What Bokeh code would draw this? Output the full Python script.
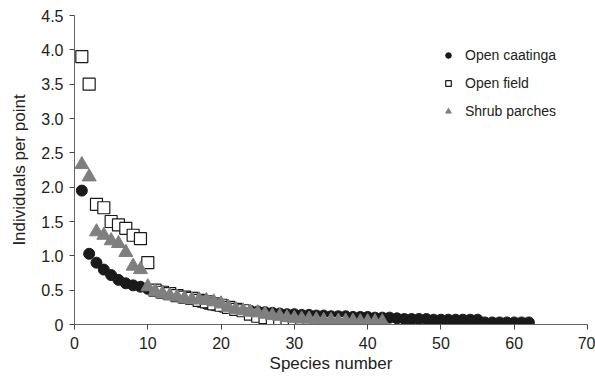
from bokeh.plotting import figure
from bokeh.models import Legend, LegendItem, Range1d, FixedTicker
from bokeh.embed import file_html
from bokeh.resources import INLINE

open_caatinga = [1.95, 1.03, 0.90, 0.80, 0.72, 0.65, 0.60, 0.57, 0.55, 0.52,
                 0.50, 0.48, 0.45, 0.42, 0.40, 0.37, 0.33, 0.30, 0.28, 0.26,
                 0.24, 0.22, 0.21, 0.20, 0.19, 0.18, 0.17, 0.16, 0.15, 0.15,
                 0.14, 0.14, 0.13, 0.13, 0.12, 0.12, 0.12, 0.11, 0.11, 0.11,
                 0.10, 0.10, 0.10, 0.09, 0.08, 0.08, 0.08, 0.08, 0.07, 0.07,
                 0.07, 0.07, 0.07, 0.07, 0.07, 0.03, 0.03, 0.03, 0.03, 0.03,
                 0.03, 0.03]
open_field = [3.90, 3.50, 1.75, 1.70, 1.50, 1.45, 1.40, 1.30, 1.25, 0.90,
              0.50, 0.47, 0.45, 0.42, 0.40, 0.38, 0.35, 0.33, 0.30, 0.28,
              0.25, 0.22, 0.20, 0.15, 0.12, 0.10, 0.08, 0.07, 0.06, 0.05,
              0.03, 0.03, 0.03, 0.03, 0.03, 0.03]
shrub_parches = [2.33, 2.15, 1.35, 1.30, 1.22, 1.18, 1.05, 0.85, 0.80, 0.55,
                 0.48, 0.45, 0.42, 0.40, 0.38, 0.36, 0.36, 0.35, 0.33, 0.30,
                 0.25, 0.22, 0.20, 0.18, 0.17, 0.15, 0.13, 0.12, 0.10, 0.09,
                 0.08, 0.08, 0.07, 0.06, 0.06, 0.05, 0.05, 0.05, 0.04, 0.04,
                 0.04, 0.04]
x_ticks = [0, 10, 20, 30, 40, 50, 60, 70]
y_ticks = [0, 0.5, 1.0, 1.5, 2.0, 2.5, 3.0, 3.5, 4.0, 4.5]
y_tick_labels = ["0", "0.5", "1.0", "1.5", "2.0", "2.5", "3.0", "3.5", "4.0", "4.5"]

FONT = "Liberation Sans"

p = figure(width=595, height=379, output_backend="svg", toolbar_location=None,
           x_range=Range1d(0, 70), y_range=Range1d(0, 4.5),
           min_border_left=74, min_border_right=8, min_border_top=15,
           min_border_bottom=55)
p.outline_line_color = None
p.xgrid.visible = False
p.ygrid.visible = False

r1 = p.scatter(list(range(1, len(open_caatinga) + 1)), open_caatinga,
               marker="circle", size=11, fill_color="#1a1a1a", line_color="#1a1a1a")
r2 = p.scatter(list(range(1, len(open_field) + 1)), open_field,
               marker="square", size=12, fill_color="white", line_color="#1a1a1a",
               line_width=1.2)
r3 = p.scatter(list(range(1, len(shrub_parches) + 1)), shrub_parches,
               marker="triangle", size=14, fill_color="#7f7f7f", line_color="#7f7f7f")

for ax in (p.xaxis[0], p.yaxis[0]):
    ax.axis_line_color = "#666666"
    ax.major_tick_line_color = "#444444"
    ax.minor_tick_line_color = None
    ax.major_tick_in = 0
    ax.major_tick_out = 5
    ax.major_label_text_font = FONT
    ax.major_label_text_font_size = "16px"
    ax.major_label_text_color = "#222222"
    ax.axis_label_text_font = FONT
    ax.axis_label_text_font_size = "17px"
    ax.axis_label_text_font_style = "normal"
    ax.axis_label_text_color = "#222222"

p.xaxis.ticker = FixedTicker(ticks=x_ticks)
p.yaxis.ticker = FixedTicker(ticks=y_ticks)
p.yaxis.major_label_overrides = {t: l for t, l in zip(y_ticks, y_tick_labels)}
p.xaxis.axis_label = "Species number"
p.yaxis.axis_label = "Individuals per point"
p.xaxis.axis_label_standoff = 2
p.yaxis.axis_label_standoff = 9
p.xaxis.major_label_standoff = 7
p.yaxis.major_label_standoff = 6

legend = Legend(items=[LegendItem(label="Open caatinga", renderers=[r1]),
                       LegendItem(label="Open field", renderers=[r2]),
                       LegendItem(label="Shrub parches", renderers=[r3])],
                location=(367, 205), border_line_color=None,
                background_fill_alpha=0, padding=0, margin=0,
                spacing=12, glyph_width=14, glyph_height=16,
                label_standoff=10, label_text_font=FONT,
                label_text_font_size="14px", label_text_color="#222222")
p.add_layout(legend)

open("out.html", "w").write(file_html(p, INLINE))
